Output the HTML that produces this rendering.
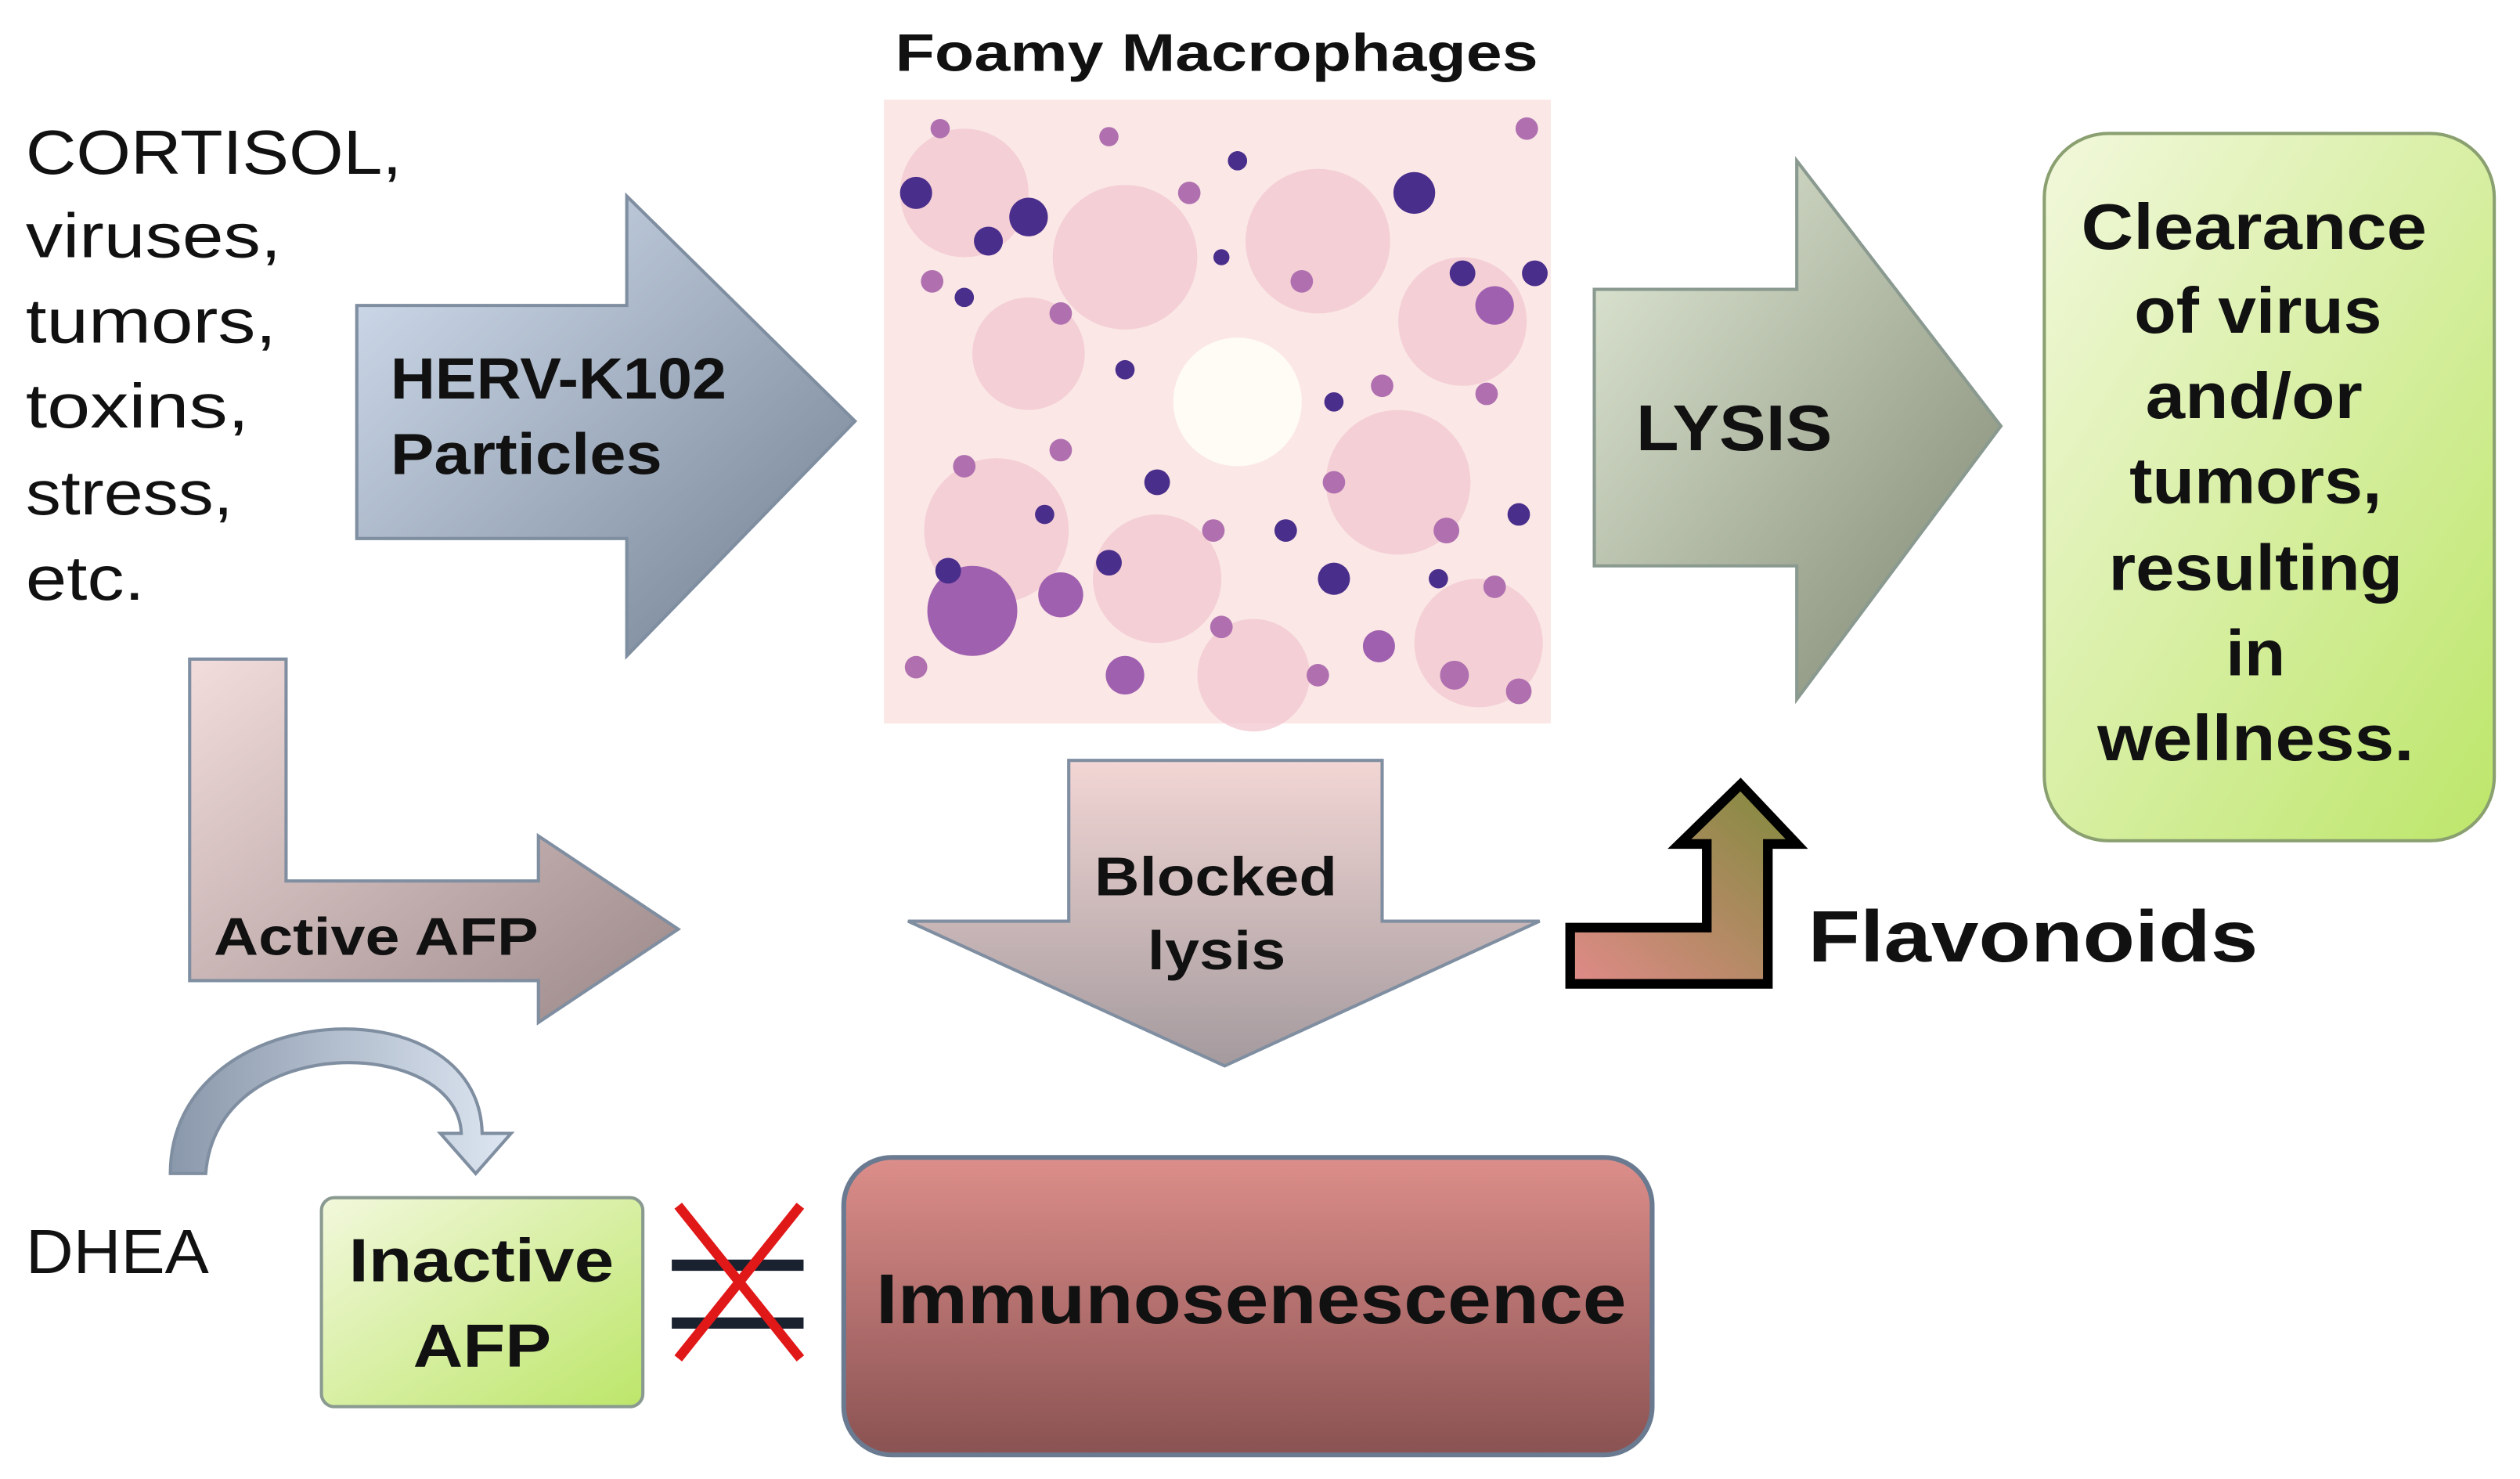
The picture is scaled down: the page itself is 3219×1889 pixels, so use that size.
<!DOCTYPE html>
<html><head><meta charset="utf-8"><style>html,body{margin:0;padding:0;background:#fff}svg{display:block}</style></head>
<body>
<svg width="3219" height="1889" viewBox="0 0 1568 920" preserveAspectRatio="none" xmlns="http://www.w3.org/2000/svg" font-family="Liberation Sans, sans-serif">
<defs>
<linearGradient id="gb" x1="0" y1="0" x2="1" y2="1"><stop offset="0" stop-color="#d6e2f2"/><stop offset="1" stop-color="#6f7d8f"/></linearGradient>
<linearGradient id="gl" x1="0" y1="0" x2="1" y2="1"><stop offset="0" stop-color="#e3ecd8"/><stop offset="1" stop-color="#7d8570"/></linearGradient>
<linearGradient id="gg" x1="0" y1="0" x2="1" y2="1"><stop offset="0" stop-color="#f2f8dc"/><stop offset="1" stop-color="#bde66a"/></linearGradient>
<linearGradient id="gp" x1="0" y1="0" x2="1" y2="1"><stop offset="0" stop-color="#f2dcdc"/><stop offset="1" stop-color="#9a8787"/></linearGradient>
<linearGradient id="gbl" x1="0" y1="0" x2="0" y2="1"><stop offset="0" stop-color="#f2d6d4"/><stop offset="1" stop-color="#a49a9e"/></linearGradient>
<linearGradient id="gr" x1="0" y1="0" x2="0" y2="1"><stop offset="0" stop-color="#dc8e8a"/><stop offset="1" stop-color="#8a5252"/></linearGradient>
<linearGradient id="gf" x1="0" y1="1" x2="1" y2="0"><stop offset="0" stop-color="#e08a88"/><stop offset="1" stop-color="#7e8a3a"/></linearGradient>
<linearGradient id="gc" x1="0" y1="0" x2="1" y2="0"><stop offset="0" stop-color="#8a98ab"/><stop offset="1" stop-color="#dde6f2"/></linearGradient>
</defs>

<g font-size="39" fill="#111" lengthAdjust="spacingAndGlyphs">
<text x="16" y="108" textLength="234" lengthAdjust="spacingAndGlyphs">CORTISOL,</text>
<text x="16" y="160" textLength="159" lengthAdjust="spacingAndGlyphs">viruses,</text>
<text x="16" y="213" textLength="156" lengthAdjust="spacingAndGlyphs">tumors,</text>
<text x="16" y="266" textLength="139" lengthAdjust="spacingAndGlyphs">toxins,</text>
<text x="16" y="320" textLength="129" lengthAdjust="spacingAndGlyphs">stress,</text>
<text x="16" y="373" textLength="74" lengthAdjust="spacingAndGlyphs">etc.</text>
<text x="16" y="792" textLength="114" lengthAdjust="spacingAndGlyphs">DHEA</text>
</g>
<text x="557" y="44" font-size="33" font-weight="bold" fill="#111" textLength="400" lengthAdjust="spacingAndGlyphs">Foamy Macrophages</text>

<!-- micrograph -->
<rect x="550" y="62" width="415" height="388" fill="#fbe8e6"/>
<g fill="#f3c9d2" opacity="0.8">
<circle cx="600" cy="120" r="40"/><circle cx="700" cy="160" r="45"/><circle cx="820" cy="150" r="45"/><circle cx="910" cy="200" r="40"/><circle cx="620" cy="330" r="45"/><circle cx="720" cy="360" r="40"/><circle cx="870" cy="300" r="45"/><circle cx="920" cy="400" r="40"/><circle cx="780" cy="420" r="35"/><circle cx="640" cy="220" r="35"/>
</g>
<circle cx="770" cy="250" r="40" fill="#fffbf5"/>
<g fill="#a060b0">
<circle cx="605" cy="380" r="28"/><circle cx="660" cy="370" r="14"/><circle cx="930" cy="190" r="12"/><circle cx="700" cy="420" r="12"/><circle cx="858" cy="402" r="10"/>
</g>
<g fill="#4a2e8c">
<circle cx="570" cy="120" r="10"/><circle cx="640" cy="135" r="12"/><circle cx="615" cy="150" r="9"/><circle cx="880" cy="120" r="13"/><circle cx="910" cy="170" r="8"/><circle cx="955" cy="170" r="8"/><circle cx="720" cy="300" r="8"/><circle cx="690" cy="350" r="8"/><circle cx="830" cy="360" r="10"/><circle cx="590" cy="355" r="8"/><circle cx="800" cy="330" r="7"/><circle cx="650" cy="320" r="6"/><circle cx="895" cy="360" r="6"/><circle cx="945" cy="320" r="7"/><circle cx="830" cy="250" r="6"/><circle cx="770" cy="100" r="6"/><circle cx="700" cy="230" r="6"/><circle cx="600" cy="185" r="6"/><circle cx="760" cy="160" r="5"/>
</g>
<g fill="#b070b0">
<circle cx="580" cy="175" r="7"/><circle cx="660" cy="195" r="7"/><circle cx="740" cy="120" r="7"/><circle cx="810" cy="175" r="7"/><circle cx="860" cy="240" r="7"/><circle cx="925" cy="245" r="7"/><circle cx="600" cy="290" r="7"/><circle cx="660" cy="280" r="7"/><circle cx="755" cy="330" r="7"/><circle cx="830" cy="300" r="7"/><circle cx="900" cy="330" r="8"/><circle cx="930" cy="365" r="7"/><circle cx="760" cy="390" r="7"/><circle cx="570" cy="415" r="7"/><circle cx="905" cy="420" r="9"/><circle cx="950" cy="80" r="7"/><circle cx="690" cy="85" r="6"/><circle cx="585" cy="80" r="6"/><circle cx="945" cy="430" r="8"/><circle cx="820" cy="420" r="7"/>
</g>

<!-- HERV arrow -->
<path d="M222 190 H390 V122 L532 262 L390 408 V335 H222 Z" fill="url(#gb)" stroke="#7f8ea0" stroke-width="2"/>
<g font-size="36" font-weight="bold" fill="#111">
<text x="243" y="248" textLength="209" lengthAdjust="spacingAndGlyphs">HERV-K102</text>
<text x="243" y="295" textLength="169" lengthAdjust="spacingAndGlyphs">Particles</text></g>

<!-- LYSIS arrow -->
<path d="M992 180 H1118 V100 L1245 265 L1118 435 V352 H992 Z" fill="url(#gl)" stroke="#8a9a90" stroke-width="2"/>
<text x="1018" y="280" font-size="40" font-weight="bold" fill="#111" textLength="122" lengthAdjust="spacingAndGlyphs">LYSIS</text>

<!-- green box -->
<rect x="1272" y="83" width="280" height="440" rx="40" fill="url(#gg)" stroke="#8aa070" stroke-width="2"/>
<g font-size="40" font-weight="bold" fill="#111">
<text x="1295" y="155" textLength="215" lengthAdjust="spacingAndGlyphs">Clearance</text>
<text x="1328" y="207" textLength="154" lengthAdjust="spacingAndGlyphs">of virus</text>
<text x="1335" y="260" textLength="135" lengthAdjust="spacingAndGlyphs">and/or</text>
<text x="1325" y="313" textLength="157" lengthAdjust="spacingAndGlyphs">tumors,</text>
<text x="1312" y="367" textLength="183" lengthAdjust="spacingAndGlyphs">resulting</text>
<text x="1385" y="420" textLength="37" lengthAdjust="spacingAndGlyphs">in</text>
<text x="1305" y="473" textLength="197" lengthAdjust="spacingAndGlyphs">wellness.</text>
</g>

<!-- L arrow -->
<path d="M118 410 H178 V548 H335 V520 L422 578 L335 636 V610 H118 Z" fill="url(#gp)" stroke="#7f8ea0" stroke-width="2"/>
<text x="133" y="594" font-size="33" font-weight="bold" fill="#111" textLength="202" lengthAdjust="spacingAndGlyphs">Active AFP</text>

<!-- Blocked lysis -->
<path d="M665 473 H860 V573 H958 L762 663 L565 573 H665 Z" fill="url(#gbl)" stroke="#7f8ea0" stroke-width="2"/>
<g font-size="34" font-weight="bold" fill="#111">
<text x="681" y="557" textLength="151" lengthAdjust="spacingAndGlyphs">Blocked</text>
<text x="714" y="603" textLength="86" lengthAdjust="spacingAndGlyphs">lysis</text></g>

<!-- Flavonoids arrow -->
<path d="M977 577 H1062 V525 H1045 L1083 488 L1118 525 H1100 V612 H977 Z" fill="url(#gf)" stroke="#000" stroke-width="6" stroke-linejoin="miter"/>
<text x="1125" y="598" font-size="45" font-weight="bold" fill="#111" textLength="280" lengthAdjust="spacingAndGlyphs">Flavonoids</text>

<!-- curved arrow -->
<path d="M106 730 C106 620 298 610 300 705 L318 705 L296 730 L274 705 L287 705 C285 645 135 640 128 730 Z" fill="url(#gc)" stroke="#7f8ea0" stroke-width="2"/>

<!-- Inactive AFP -->
<rect x="200" y="745" width="200" height="130" rx="8" fill="url(#gg)" stroke="#8a9a90" stroke-width="2"/>
<g font-size="38" font-weight="bold" fill="#111">
<text x="217" y="797" textLength="165" lengthAdjust="spacingAndGlyphs">Inactive</text>
<text x="257" y="850" textLength="86" lengthAdjust="spacingAndGlyphs">AFP</text></g>

<!-- crossed equals -->
<line x1="418" y1="787" x2="500" y2="787" stroke="#1a2230" stroke-width="7"/>
<line x1="418" y1="823" x2="500" y2="823" stroke="#1a2230" stroke-width="7"/>
<line x1="422" y1="750" x2="498" y2="845" stroke="#e01818" stroke-width="6"/>
<line x1="498" y1="750" x2="422" y2="845" stroke="#e01818" stroke-width="6"/>

<!-- Immunosenescence -->
<rect x="525" y="720" width="503" height="185" rx="30" fill="url(#gr)" stroke="#6a7a90" stroke-width="3"/>
<text x="545" y="823" font-size="44" font-weight="bold" fill="#111" textLength="467" lengthAdjust="spacingAndGlyphs">Immunosenescence</text>
</svg>
</body></html>
